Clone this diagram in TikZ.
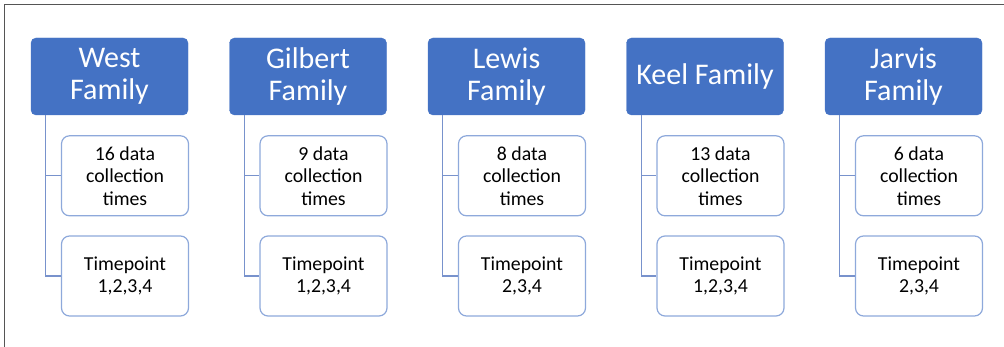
\documentclass[tikz,border=0pt]{standalone}
\usepackage{fontspec}
\setmainfont{Carlito}
\usetikzlibrary{positioning}

\definecolor{headblue}{HTML}{4472C4}
\definecolor{boxblue}{HTML}{8EA9DB}
\definecolor{lineblue}{HTML}{7892CC}
\definecolor{framegray}{HTML}{555555}

\begin{document}
\begin{tikzpicture}[x=1pt, y=-1pt,
        head/.style  = {draw=headblue, fill=headblue, rounded corners=5pt, text=white, align=center,
                        minimum width=157pt, minimum height=77pt, inner sep=2pt,
                        font=\fontsize{30}{32.5}\selectfont},
        item/.style  = {draw=boxblue, line width=1.2pt, fill=white, rounded corners=8pt, align=center,
                        minimum width=127pt, minimum height=80pt, inner sep=2pt,
                        font=\fontsize{19.8}{22.5}\selectfont},
        link/.style  = {draw=lineblue, line width=1.2pt},
        node distance=20pt]

        \useasboundingbox (0,0) rectangle (1004,347);
        % frame round the figure, cut at right and bottom
        \draw[framegray, line width=1.5pt] (4.5,360) -- (4.5,4.5) -- (1020,4.5);

        % one column for each family
        \foreach \i/\fam/\ndata/\points in {0/{West\\Family}/16/{1,2,3,4},
                                            1/{Gilbert\\Family}/9/{1,2,3,4},
                                            2/{Lewis\\Family}/8/{2,3,4},
                                            3/{Keel Family}/13/{1,2,3,4},
                                            4/{Jarvis\\Family}/6/{2,3,4}}
        {
            \node[head] (f\i) at (109.5+198.5*\i, 76.5) {\fam};
            \node[item, below=20pt of f\i.south, xshift=15.5pt] (f\i1) {\ndata{} data\\collection\\times};
            \node[item, below=19pt of f\i1] (f\i2) {Timepoint\\\points};

            % branches from the header to its boxes
            \draw[link] ([xshift=15pt]f\i.south west) |- (f\i1.west);
            \draw[link] ([xshift=15pt]f\i.south west) |- (f\i2.west);
        }
    \end{tikzpicture}
\end{document}
